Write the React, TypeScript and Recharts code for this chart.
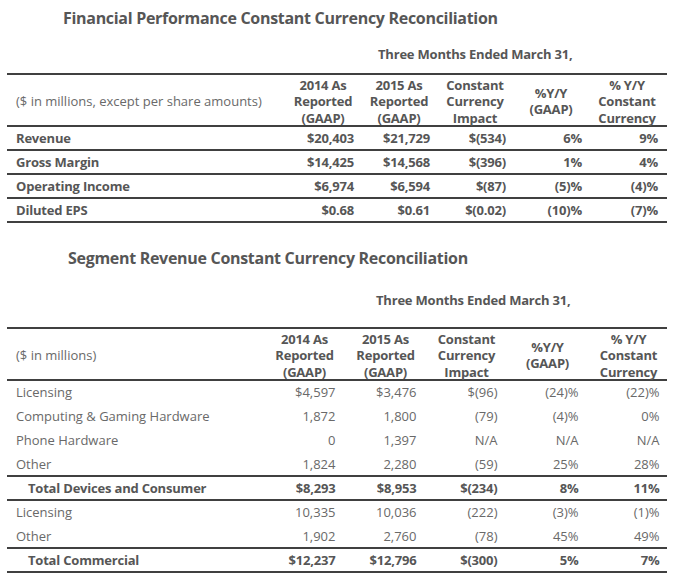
import React from "react";
import { ScatterChart, Scatter, XAxis, YAxis } from "recharts";

const columnKeys = ["asReported2014", "asReported2015", "ccImpact", "yoyGaap", "yoyConstant"];
const columnHeaders = [
  ["2014 As", "Reported", "(GAAP)"],
  ["2015 As", "Reported", "(GAAP)"],
  ["Constant", "Currency", "Impact"],
  ["%Y/Y", "(GAAP)"],
  ["% Y/Y", "Constant", "Currency"],
];
const periodLabel = "Three Months Ended March 31,";

// Financial Performance
const finTitle = "Financial Performance Constant Currency Reconciliation";
const finUnits = "($ in millions, except per share amounts)";
const finRows = ["Revenue", "Gross Margin", "Operating Income", "Diluted EPS"];
const fin2014 = ["$20,403", "$14,425", "$6,974", "$0.68"];
const fin2015 = ["$21,729", "$14,568", "$6,594", "$0.61"];
const finImpact = ["$(534)", "$(396)", "$(87)", "$(0.02)"];
const finYoyGaap = ["6%", "1%", "(5)%", "(10)%"];
const finYoyCc = ["9%", "4%", "(4)%", "(7)%"];

// Segment Revenue
const segTitle = "Segment Revenue Constant Currency Reconciliation";
const segUnits = "($ in millions)";
const segRows = [
  "Licensing",
  "Computing & Gaming Hardware",
  "Phone Hardware",
  "Other",
  "Total Devices and Consumer",
  "Licensing",
  "Other",
  "Total Commercial",
];
const segIsTotal = [false, false, false, false, true, false, false, true];
const seg2014 = ["$4,597", "1,872", "0", "1,824", "$8,293", "10,335", "1,902", "$12,237"];
const seg2015 = ["$3,476", "1,800", "1,397", "2,280", "$8,953", "10,036", "2,760", "$12,796"];
const segImpact = ["$(96)", "(79)", "N/A", "(59)", "$(234)", "(222)", "(78)", "$(300)"];
const segYoyGaap = ["(24)%", "(4)%", "N/A", "25%", "8%", "(3)%", "45%", "5%"];
const segYoyCc = ["(22)%", "0%", "N/A", "28%", "11%", "(1)%", "49%", "7%"];

const FONT = "'Open Sans', 'Noto Sans', sans-serif";
const BOLD_COLOR = "#565656";
const TEXT_COLOR = "#696969";
const RULE = "#000";
const HEADER_H = 52;
const ROW_H = 24;
const RULE_LEFT = 7;
const RULE_RIGHT = 667;
const VALUE_OFFSET = 31;

type Cell = { row: string; col: string; text: string; bold: boolean };

const buildCells = (rows: string[], series: string[][], bold: boolean[]): Cell[] => {
  const out: Cell[] = [];
  rows.forEach((_, i) => {
    columnKeys.forEach((col, j) => {
      out.push({ row: String(i), col, text: series[j][i], bold: bold[i] });
    });
  });
  return out;
};

type TableProps = {
  top: number;
  rows: string[];
  bold: boolean[];
  indent: boolean[];
  series: string[][];
  units: string;
  plotLeft: number;
  plotRight: number;
};

const Table = ({ top, rows, bold, indent, series, units, plotLeft, plotRight }: TableProps) => {
  const cells = buildCells(rows, series, bold);
  const marginTop = 1;
  const height = marginTop + HEADER_H + rows.length * ROW_H + 2;
  const headerMid = marginTop + HEADER_H / 2 + 1;

  const headerTick = (p: any) => {
    const lines = columnHeaders[p.index] || [];
    const start = headerMid - ((lines.length - 1) * 16.5) / 2;
    return (
      <g>
        {p.index === 0 && (
          <g>
            <line x1={RULE_LEFT} x2={RULE_RIGHT} y1={marginTop} y2={marginTop} stroke={RULE} strokeWidth={1.5} />
            <line
              x1={RULE_LEFT}
              x2={RULE_RIGHT}
              y1={marginTop + HEADER_H}
              y2={marginTop + HEADER_H}
              stroke={RULE}
              strokeWidth={1.5}
            />
            <text x={16} y={headerMid} dominantBaseline="central" fontSize={13} fill={TEXT_COLOR}>
              {units}
            </text>
          </g>
        )}
        {lines.map((t, k) => (
          <text
            key={k}
            x={p.x}
            y={start + k * 16.5}
            textAnchor="middle"
            dominantBaseline="central"
            fontSize={13}
            fontWeight={700}
            letterSpacing={-0.2}
            fill={BOLD_COLOR}
          >
            {t}
          </text>
        ))}
      </g>
    );
  };

  const rowTick = (p: any) => {
    const i = Number(p.payload.value);
    const ruleBelow = bold[i] || bold[i + 1];
    const yb = p.y + ROW_H / 2;
    return (
      <g>
        <text
          x={indent[i] ? 28 : 16}
          y={p.y}
          dominantBaseline="central"
          fontSize={13}
          fontWeight={bold[i] ? 700 : 400}
          letterSpacing={bold[i] ? -0.2 : 0}
          fill={bold[i] ? BOLD_COLOR : TEXT_COLOR}
        >
          {rows[i]}
        </text>
        {ruleBelow && <line x1={RULE_LEFT} x2={RULE_RIGHT} y1={yb} y2={yb} stroke={RULE} strokeWidth={1.5} />}
      </g>
    );
  };

  const cellShape = (p: any) => {
    const c: Cell = p.payload;
    return (
      <text
        x={p.cx + VALUE_OFFSET}
        y={p.cy}
        textAnchor="end"
        dominantBaseline="central"
        fontSize={13}
        fontWeight={c.bold ? 700 : 400}
        letterSpacing={c.bold ? -0.2 : 0}
        fill={c.bold ? BOLD_COLOR : TEXT_COLOR}
      >
        {c.text}
      </text>
    );
  };

  return (
    <div style={{ position: "absolute", left: 0, top }}>
      <ScatterChart
        width={678}
        height={height}
        margin={{ top: marginTop, right: 678 - plotRight, bottom: 2, left: 0 }}
        style={{ fontFamily: FONT }}
      >
        <XAxis
          type="category"
          dataKey="col"
          orientation="top"
          height={HEADER_H}
          allowDuplicatedCategory={false}
          axisLine={false}
          tickLine={false}
          interval={0}
          tick={headerTick}
        />
        <YAxis
          type="category"
          dataKey="row"
          width={plotLeft}
          allowDuplicatedCategory={false}
          reversed
          axisLine={false}
          tickLine={false}
          interval={0}
          tick={rowTick}
        />
        <Scatter data={cells} isAnimationActive={false} shape={cellShape} />
      </ScatterChart>
    </div>
  );
};

const titleStyle: React.CSSProperties = {
  position: "absolute",
  fontSize: 16,
  fontWeight: 700,
  letterSpacing: -0.3,
  lineHeight: "20px",
  color: BOLD_COLOR,
  whiteSpace: "nowrap",
};

const periodStyle: React.CSSProperties = {
  position: "absolute",
  fontSize: 13,
  fontWeight: 700,
  letterSpacing: -0.2,
  lineHeight: "16px",
  color: BOLD_COLOR,
  whiteSpace: "nowrap",
};

export default function App() {
  return (
    <div
      style={{
        position: "absolute",
        left: 0,
        top: 0,
        width: 678,
        height: 586,
        background: "#fff",
        fontFamily: FONT,
        overflow: "hidden",
      }}
    >
      <div style={{ ...titleStyle, left: 63, top: 8 }}>{finTitle}</div>
      <div style={{ ...periodStyle, left: 378, top: 46 }}>{periodLabel}</div>
      <Table
        top={73}
        rows={finRows}
        bold={finRows.map(() => true)}
        indent={finRows.map(() => false)}
        series={[fin2014, fin2015, finImpact, finYoyGaap, finYoyCc]}
        units={finUnits}
        plotLeft={285}
        plotRight={665}
      />
      <div style={{ ...titleStyle, left: 68, top: 248 }}>{segTitle}</div>
      <div style={{ ...periodStyle, left: 376, top: 292 }}>{periodLabel}</div>
      <Table
        top={327}
        rows={segRows}
        bold={segIsTotal}
        indent={segIsTotal}
        series={[seg2014, seg2015, segImpact, segYoyGaap, segYoyCc]}
        units={segUnits}
        plotLeft={264}
        plotRight={669}
      />
    </div>
  );
}
